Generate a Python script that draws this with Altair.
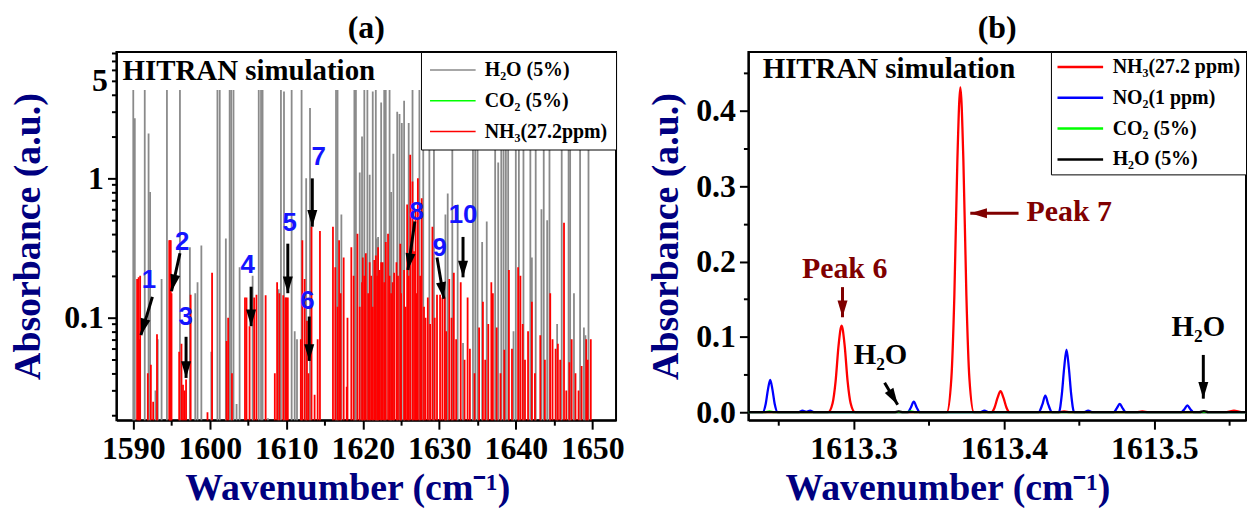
import altair as alt
import pandas as pd

F = "Liberation Serif"
NAVY = "#000080"

# ---------------- Panel (a): line positions (cm-1) and absorbance ----------------
h2o_w = [1590.0, 1590.2, 1591.5, 1592.0, 1592.2, 1592.9, 1593.2, 1593.7, 1594.4, 1596.1,
         1597.4, 1598.1, 1598.4, 1598.9, 1600.2, 1601.0, 1601.3, 1602.1, 1602.6, 1602.8,
         1603.1, 1603.5, 1603.9, 1605.6, 1606.4, 1606.7, 1606.9, 1607.6, 1609.0, 1609.3,
         1609.7, 1610.7, 1611.1, 1611.4, 1612.0, 1612.6, 1613.1, 1616.5, 1616.7, 1617.2,
         1618.9, 1619.1, 1619.6, 1619.9, 1620.2, 1620.6, 1620.9, 1621.3, 1621.7, 1621.8,
         1622.0, 1622.4, 1622.8, 1623.0, 1623.5, 1623.7, 1624.0, 1624.5, 1624.8, 1625.1,
         1625.4, 1626.0, 1626.5, 1627.4, 1627.9, 1628.7, 1629.3, 1630.8, 1631.1, 1631.7,
         1632.4, 1633.1, 1634.4, 1634.7, 1635.0, 1635.6, 1636.2, 1637.3, 1637.7, 1638.1,
         1638.4, 1638.7, 1639.0, 1639.7, 1640.0, 1640.4, 1641.0, 1641.9, 1642.1, 1642.6,
         1643.35, 1643.65, 1644.1, 1644.4, 1645.4, 1646.0, 1646.9, 1647.1, 1647.6, 1648.4,
         1648.9, 1649.1, 1649.5]
h2o_a = [4.3, 2.7, 4.3, 2.1, 0.8, 0.03, 0.07, 0.19, 4.3, 4.3,
         0.32, 0.15, 0.18, 0.33, 0.057, 4.3, 4.3, 0.37, 4.3, 4.3,
         4.3, 0.024, 0.23, 0.2, 4.3, 4.3, 4.3, 0.019, 0.16, 4.3,
         4.2, 4.3, 0.08, 0.07, 4.3, 1.0, 3.2, 4.3, 4.3, 0.55,
         4.3, 4.3, 1.1, 2.0, 4.3, 4.3, 1.06, 4.2, 4.3, 0.37,
         0.38, 3.5, 4.3, 4.3, 4.3, 0.8, 1.5, 3.0, 2.9, 2.5,
         3.6, 2.5, 4.3, 4.3, 4.3, 4.3, 4.3, 0.55, 0.78, 4.3,
         0.65, 0.066, 4.3, 4.3, 4.3, 0.35, 0.49, 4.3, 1.3, 4.3,
         4.3, 4.3, 4.3, 0.08, 4.3, 4.3, 4.3, 4.3, 0.27, 4.3,
         0.6, 4.3, 0.5, 4.3, 0.09, 4.3, 4.3, 4.3, 0.15, 4.3,
         0.085, 0.075, 4.3]

nh3_w = [1590.5, 1590.7, 1590.8, 1590.9, 1591.9, 1592.3, 1592.6, 1593.1, 1594.7, 1594.8,
         1594.9, 1595.0, 1596.0, 1596.3, 1596.5, 1596.7, 1596.9, 1597.5, 1599.7, 1600.3,
         1602.2, 1602.4, 1602.9, 1604.6, 1604.8, 1605.2, 1605.8, 1606.1, 1607.3, 1608.5,
         1608.8, 1609.1, 1609.6, 1609.9, 1610.0, 1610.2, 1611.9, 1612.1, 1612.4, 1612.7,
         1612.9, 1613.3, 1613.7, 1614.1, 1614.4, 1616.1, 1616.4, 1616.7, 1616.9, 1617.1,
         1617.5, 1617.9, 1618.0, 1618.5, 1618.8, 1619.3, 1619.6, 1619.9, 1620.0, 1620.2,
         1620.4, 1620.7, 1620.9, 1621.1, 1621.3, 1621.5, 1621.7, 1621.9, 1622.0, 1622.2,
         1622.4, 1622.6, 1622.8, 1623.0, 1623.3, 1623.5, 1623.7, 1623.9, 1624.1, 1624.4,
         1624.6, 1624.9, 1625.0, 1625.4, 1625.6, 1625.8, 1626.0, 1626.2, 1626.5, 1626.7,
         1626.9, 1627.0, 1627.2, 1627.5, 1627.7, 1628.0, 1628.2, 1628.5, 1628.8, 1629.1,
         1629.4, 1629.7, 1630.1, 1630.4, 1630.7, 1630.9, 1631.3, 1631.6, 1631.9, 1632.2,
         1632.8, 1633.3, 1633.7, 1634.0, 1634.6, 1635.2, 1635.7, 1636.0, 1636.4, 1636.8,
         1637.0, 1637.5, 1638.0, 1638.5, 1639.1, 1639.5, 1640.3, 1640.6, 1640.9, 1641.2,
         1641.6, 1642.1, 1642.5, 1643.2, 1643.8, 1644.5, 1644.8, 1645.2, 1645.5, 1645.8,
         1646.3, 1646.6, 1647.0, 1647.3, 1647.8, 1648.2, 1648.6, 1649.2, 1649.4, 1649.8]
nh3_a = [0.19, 0.195, 0.07, 0.2, 0.04, 0.046, 0.025, 0.076, 0.36, 0.36,
         0.36, 0.15, 0.057, 0.065, 0.033, 0.03, 0.036, 0.146, 0.021, 0.21,
         0.068, 0.10, 0.04, 0.14, 0.14, 0.087, 0.14, 0.146, 0.145, 0.04,
         0.18, 0.15, 0.145, 0.14, 0.14, 0.14, 0.07, 0.36, 0.19, 0.095,
         0.04, 0.45, 0.028, 0.07, 0.42, 0.45, 0.23, 0.12, 0.36, 0.15,
         0.27, 0.032, 0.10, 0.32, 0.2, 0.40, 0.12, 0.18, 0.27, 0.2,
         0.29, 0.15, 0.25, 0.2, 0.12, 0.26, 0.28, 0.2, 0.32, 0.22,
         0.25, 0.25, 0.18, 0.35, 0.40, 0.2, 0.15, 0.18, 0.21, 0.25,
         0.2, 0.34, 0.15, 0.22, 0.12, 0.65, 0.2, 1.48, 0.95, 0.3,
         0.6, 0.15, 1.0, 0.2, 0.72, 0.12, 0.10, 0.14, 0.09, 0.45,
         0.10, 0.146, 0.146, 0.14, 0.14, 0.08, 0.19, 0.10, 0.21, 0.07,
         0.18, 0.05, 0.14, 0.06, 0.04, 0.085, 0.13, 0.05, 0.09, 0.18,
         0.15, 0.085, 0.04, 0.059, 0.22, 0.06, 0.23, 0.2, 0.09, 0.05,
         0.08, 0.13, 0.04, 0.075, 0.05, 0.15, 0.07, 0.06, 0.065, 0.05,
         0.48, 0.03, 0.048, 0.07, 0.04, 0.03, 0.045, 0.07, 0.05, 0.07]

a_series = ["H\u2082O (5%)", "CO\u2082 (5%)", "NH\u2083(27.2ppm)"]
a_colors = ["#8a8a8a", "#00ff00", "#ff0000"]

a_x_ticks = [1590, 1595, 1600, 1605, 1610, 1615, 1620, 1625, 1630, 1635, 1640, 1645, 1650]
a_y_ticks = [0.02, 0.03, 0.04, 0.05, 0.06, 0.07, 0.08, 0.09, 0.1, 0.2, 0.3, 0.4, 0.5,
             0.6, 0.7, 0.8, 0.9, 1, 2, 3, 4, 5, 6, 7, 8]
a_x_domain = [1587.8, 1653.1]
a_y_domain = [0.0184, 8.07]

# numbered peak labels and arrows (panel a)
num_text = ["1", "2", "3", "4", "5", "6", "7", "8", "9", "10"]
num_x = [1592.05, 1596.4, 1596.85, 1604.95, 1610.45, 1612.75, 1614.25, 1627.05, 1630.05, 1633.1]
num_y = [0.187, 0.351, 0.102, 0.239, 0.48, 0.131, 1.42, 0.574, 0.315, 0.544]
arr_a_x1 = [1592.5, 1596.1, 1596.9, 1605.4, 1610.2, 1613.0, 1613.4, 1626.8, 1629.7, 1633.1]
arr_a_y1 = [0.141, 0.29, 0.073, 0.167, 0.34, 0.102, 1.0, 0.49, 0.27, 0.38]
arr_a_x2 = [1591.0, 1595.0, 1596.9, 1605.4, 1610.2, 1613.0, 1613.4, 1625.9, 1630.6, 1633.1]
arr_a_y2 = [0.075, 0.155, 0.037, 0.087, 0.15, 0.049, 0.45, 0.22, 0.137, 0.195]
arr_a_angle = [196, 193, 180, 180, 180, 180, 180, 189, 170, 180]

# ---------------- Panel (b): simulated spectra ----------------
b_series = ["NH\u2083(27.2 ppm)", "NO\u2082(1 ppm)", "CO\u2082 (5%)", "H\u2082O (5%)"]
b_colors = ["#ff0000", "#0000ff", "#00ff00", "#000000"]

nh3_b_x = [1613.225, 1613.283, 1613.286, 1613.288, 1613.290, 1613.292, 1613.294, 1613.296,
           1613.298, 1613.301, 1613.362, 1613.365, 1613.367, 1613.369, 1613.371, 1613.373,
           1613.375, 1613.377, 1613.380, 1613.3917, 1613.3937, 1613.3957, 1613.3977, 1613.3997,
           1613.4017, 1613.4037, 1613.436, 1613.440, 1613.444, 1613.488, 1613.492, 1613.496,
           1613.548, 1613.553, 1613.558, 1613.57]
nh3_b_y = [0, 0, 0.012, 0.041, 0.089, 0.115, 0.089, 0.041,
           0.012, 0, 0, 0.045, 0.155, 0.334, 0.431, 0.334,
           0.155, 0.045, 0, 0, 0.006, 0.019, 0.028, 0.019,
           0.006, 0, 0, 0.0012, 0, 0, 0.0012, 0,
           0, 0.002, 0, 0]

no2_b_x = [1613.225, 1613.2395, 1613.2415, 1613.243, 1613.2445, 1613.246, 1613.2475, 1613.2495,
           1613.263, 1613.266, 1613.2685, 1613.271, 1613.274,
           1613.336, 1613.338, 1613.340, 1613.342, 1613.344,
           1613.384, 1613.387, 1613.390,
           1613.423, 1613.4255, 1613.4275, 1613.4295, 1613.432,
           1613.4365, 1613.4385, 1613.440, 1613.4416, 1613.4432, 1613.4447, 1613.4467,
           1613.453, 1613.456, 1613.459,
           1613.473, 1613.475, 1613.477, 1613.479, 1613.481,
           1613.518, 1613.520, 1613.522, 1613.524, 1613.526, 1613.57]
no2_b_y = [0, 0, 0.011, 0.030, 0.043, 0.030, 0.011, 0,
           0, 0.002, 0.0005, 0.002, 0,
           0, 0.006, 0.014, 0.006, 0,
           0, 0.002, 0,
           0, 0.010, 0.022, 0.010, 0,
           0, 0.024, 0.058, 0.083, 0.058, 0.024, 0,
           0, 0.002, 0,
           0, 0.005, 0.011, 0.005, 0,
           0, 0.004, 0.009, 0.004, 0, 0]

co2_b_x = [1613.225, 1613.241, 1613.244, 1613.247, 1613.335, 1613.338, 1613.341, 1613.57]
co2_b_y = [0, 0, 0.0012, 0, 0, 0.0012, 0, 0]

h2o_b_x = [1613.225, 1613.327, 1613.330, 1613.333, 1613.530, 1613.533, 1613.536, 1613.57]
h2o_b_y = [0, 0, 0.001, 0, 0, 0.0015, 0, 0]

b_x_ticks = [1613.25, 1613.3, 1613.35, 1613.4, 1613.45, 1613.5, 1613.55]
b_y_ticks = [0, 0.05, 0.1, 0.15, 0.2, 0.25, 0.3, 0.35, 0.4, 0.45]
b_x_domain = [1613.23, 1613.561]
b_y_domain = [-0.0106, 0.478]

# annotations panel (b)
b_text = ["Peak 6", "Peak 7"]
b_text_x = [1613.294, 1613.4434]
b_text_y = [0.19, 0.265]
h2o_lab_x = [1613.3179, 1613.5293]
h2o_lab_y = [0.076, 0.113]
arr_b_x1 = [1613.2926, 1613.4097, 1613.3206, 1613.5326]
arr_b_y1 = [0.166, 0.264, 0.039, 0.076]
arr_b_x2 = [1613.2926, 1613.3776, 1613.3293, 1613.5326]
arr_b_y2 = [0.126, 0.264, 0.010, 0.018]
arr_b_angle = [180, 270, 149, 180]
arr_b_color = ["#800000", "#800000", "#000000", "#000000"]

HEAD = "M0,0L0.6,2L-0.6,2Z"


def axis(values, label_test, tick_test, fmt, title, **kw):
    return alt.Axis(
        values=values, grid=False, domainColor="black", domainWidth=2,
        tickColor="black", tickWidth=2,
        tickSize={"condition": {"test": tick_test, "value": 9}, "value": 5},
        labelExpr=f"({label_test}) ? format(datum.value, '{fmt}') : ''",
        labelFont=F, labelFontWeight="bold", labelColor="black",
        labelFontSize={"condition": {"test": label_test, "value": 32}, "value": 1},
        labelOverlap=False, labelPadding=4,
        title=title, titleFont=F, titleFontSize=38, titleFontWeight="bold",
        titleColor=NAVY, **kw)


# ---------------- build panel (a) ----------------
spk = pd.concat([
    pd.DataFrame({"w": h2o_w, "a": h2o_a, "s": a_series[0]}),
    pd.DataFrame({"w": nh3_w, "a": nh3_a, "s": a_series[2]}),
], ignore_index=True)
spk["o"] = range(len(spk))

xa = alt.Scale(domain=a_x_domain, nice=False, zero=False)
ya = alt.Scale(type="log", domain=a_y_domain, nice=False)

xa_axis = axis(a_x_ticks, "datum.value % 10 == 0", "datum.value % 10 == 0", "d",
               "Wavenumber (cm\u207b\u00b9)", titlePadding=6, titleX=232, titleAlign="center")
ya_axis = axis(a_y_ticks, "datum.value == 5 || datum.value == 1 || datum.value == 0.1",
               "datum.value == 1 || datum.value == 0.1", "~g",
               "Absorbance (a.u.)", titlePadding=16)

legend_common = dict(orient="top-right", offset=0, title=None, fillColor="white",
                     strokeColor="black", symbolType="stroke", symbolSize=2100,
                     clipHeight=20, labelFont=F, labelFontSize=20, labelFontWeight="bold",
                     labelLimit=400, labelOffset=8, labelBaseline="middle")

spikes = alt.Chart(spk).mark_rule(strokeWidth=1.8, clip=True).encode(
    x=alt.X("w:Q", scale=xa, axis=xa_axis),
    y=alt.Y("a:Q", scale=ya, axis=ya_axis),
    y2=alt.datum(0.001),
    order="o:Q",
    color=alt.Color("s:N", scale=alt.Scale(domain=a_series, range=a_colors),
                    legend=alt.Legend(padding=8, rowPadding=11, symbolStrokeWidth=1.5,
                                      **legend_common)),
)

hitran_a = alt.Chart(pd.DataFrame({"x": [1588.6], "y": [5.9], "t": ["HITRAN simulation"]})).mark_text(
    font=F, fontSize=29, fontWeight="bold", align="left", baseline="middle", color="black"
).encode(x=alt.X("x:Q", scale=xa), y=alt.Y("y:Q", scale=ya), text="t:N")

nums = alt.Chart(pd.DataFrame({"x": num_x, "y": num_y, "t": num_text})).mark_text(
    font="Liberation Sans", fontSize=26, fontWeight="bold", color="#1414ff",
    align="center", baseline="middle"
).encode(x=alt.X("x:Q", scale=xa), y=alt.Y("y:Q", scale=ya), text="t:N")

arr_a = pd.DataFrame({"x1": arr_a_x1, "y1": arr_a_y1, "x2": arr_a_x2, "y2": arr_a_y2,
                      "ang": arr_a_angle})
arr_a_lines = alt.Chart(arr_a).mark_rule(strokeWidth=3, color="black").encode(
    x=alt.X("x1:Q", scale=xa), y=alt.Y("y1:Q", scale=ya), x2="x2:Q", y2="y2:Q")
arr_a_heads = alt.Chart(arr_a).mark_point(shape=HEAD, filled=True, size=280, color="black",
                                          opacity=1).encode(
    x=alt.X("x2:Q", scale=xa), y=alt.Y("y2:Q", scale=ya),
    angle=alt.Angle("ang:Q", scale=None))

panel_a = alt.layer(spikes, hitran_a, arr_a_lines, arr_a_heads, nums).properties(
    width=502, height=370,
    title=alt.TitleParams("(a)", font=F, fontSize=32, fontWeight="bold", color="black",
                          anchor="middle", offset=7))

# ---------------- build panel (b) ----------------
lines_b = pd.concat([
    pd.DataFrame({"x": nh3_b_x, "y": nh3_b_y, "s": b_series[0], "k": 0}),
    pd.DataFrame({"x": no2_b_x, "y": no2_b_y, "s": b_series[1], "k": 1}),
    pd.DataFrame({"x": co2_b_x, "y": co2_b_y, "s": b_series[2], "k": 2}),
    pd.DataFrame({"x": h2o_b_x, "y": h2o_b_y, "s": b_series[3], "k": 3}),
], ignore_index=True)

xb = alt.Scale(domain=b_x_domain, nice=False, zero=False)
yb = alt.Scale(domain=b_y_domain, nice=False, zero=False)
tenth = "abs(datum.value*10 - round(datum.value*10)) < 0.001"
xb_axis = axis(b_x_ticks, tenth, tenth, ".1f", "Wavenumber (cm\u207b\u00b9)", titlePadding=6,
               titleX=200, titleAlign="center")
yb_axis = axis(b_y_ticks, tenth, tenth, ".1f", "Absorbance (a.u.)", titlePadding=10)

cb = alt.Color("s:N", scale=alt.Scale(domain=b_series, range=b_colors),
               legend=alt.Legend(padding=5, rowPadding=11, symbolStrokeWidth=2.5,
                                 **legend_common))

line_layers = []
for i, s in enumerate(b_series):
    line_layers.append(
        alt.Chart(lines_b).transform_filter(alt.datum.k == i).mark_line(
            strokeWidth=2.3, interpolate="monotone", clip=True).encode(
            x=alt.X("x:Q", scale=xb, axis=xb_axis),
            y=alt.Y("y:Q", scale=yb, axis=yb_axis),
            color=cb))

hitran_b = alt.Chart(pd.DataFrame({"x": [1613.2395], "y": [0.456], "t": ["HITRAN simulation"]})).mark_text(
    font=F, fontSize=29, fontWeight="bold", align="left", baseline="middle", color="black"
).encode(x=alt.X("x:Q", scale=xb), y=alt.Y("y:Q", scale=yb), text="t:N")

peak_txt = alt.Chart(pd.DataFrame({"x": b_text_x, "y": b_text_y, "t": b_text})).mark_text(
    font=F, fontSize=30, fontWeight="bold", color="#800000", align="center", baseline="middle"
).encode(x=alt.X("x:Q", scale=xb), y=alt.Y("y:Q", scale=yb), text="t:N")

h2o_txt = alt.Chart(pd.DataFrame({"x": h2o_lab_x, "y": h2o_lab_y, "t": ["H\u2082O", "H\u2082O"]})).mark_text(
    font=F, fontSize=29, fontWeight="bold", color="black", align="center", baseline="middle"
).encode(x=alt.X("x:Q", scale=xb), y=alt.Y("y:Q", scale=yb), text="t:N")

arr_b = pd.DataFrame({"x1": arr_b_x1, "y1": arr_b_y1, "x2": arr_b_x2, "y2": arr_b_y2,
                      "ang": arr_b_angle, "c": arr_b_color})
arr_b_lines = alt.Chart(arr_b).mark_rule(strokeWidth=3).encode(
    x=alt.X("x1:Q", scale=xb), y=alt.Y("y1:Q", scale=yb), x2="x2:Q", y2="y2:Q",
    color=alt.Color("c:N", scale=None))
arr_b_heads = alt.Chart(arr_b).mark_point(shape=HEAD, filled=True, size=280, opacity=1).encode(
    x=alt.X("x2:Q", scale=xb), y=alt.Y("y2:Q", scale=yb),
    angle=alt.Angle("ang:Q", scale=None), color=alt.Color("c:N", scale=None))

panel_b = alt.layer(*line_layers, hitran_b, peak_txt, h2o_txt, arr_b_lines, arr_b_heads).properties(
    width=500, height=370,
    title=alt.TitleParams("(b)", font=F, fontSize=32, fontWeight="bold", color="black",
                          anchor="middle", offset=7))

chart = alt.hconcat(panel_a, panel_b, spacing=133, bounds="flush").resolve_scale(
    color="independent").resolve_legend(color="independent").properties(
    padding={"left": 9, "top": 9, "right": 0, "bottom": 0}, background="white"
).configure_view(stroke="black", strokeWidth=2)

chart.save("out.html", embed_options={"renderer": "svg", "actions": False})
